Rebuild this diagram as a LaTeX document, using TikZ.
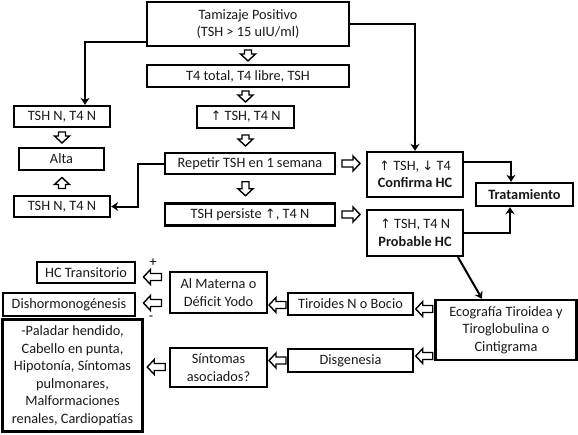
\documentclass[tikz,border=0pt]{standalone}
\usepackage{fontspec}
\setmainfont{Carlito}
\newfontfamily\arrfont{DejaVu Sans}
\usetikzlibrary{arrows.meta,calc}
\newcommand\myup{{\arrfont\fontsize{13}{13}\selectfont ↑}}
\newcommand\mydown{{\arrfont\fontsize{13}{13}\selectfont ↓}}
% hollow block arrow: #1 start point, #2 end point, #3 rotation, #4 length
\newcommand\hollowarrow[4]{%
  \begin{scope}[shift={($#1!0.5!#2$)},rotate=#3]
    \draw[blockarrow] ({-#4/2},-3.5) -- ({#4/2-7},-3.5) -- ({#4/2-7},-7.5) -- ({#4/2},0)
      -- ({#4/2-7},7.5) -- ({#4/2-7},3.5) -- ({-#4/2},3.5) -- cycle;
  \end{scope}}
\begin{document}
\begin{tikzpicture}[x=1pt,y=-1pt,
  box/.style={draw,line width=2.4pt,align=center,inner sep=1pt,text=black!90,
    font=\fontsize{14.3}{17.5}\selectfont},
  blockarrow/.style={line width=1.4pt,fill=white,line join=miter},
  link/.style={line width=2pt,-{Stealth[length=7pt,width=9pt]}},
  sign/.style={font=\fontsize{14}{14}\selectfont,inner sep=0pt}
]
\useasboundingbox (0,0) rectangle (578,434);
% boxes
\node[box,minimum width=202pt,minimum height=44pt] (tam) at (248,24) {Tamizaje Positivo\\(TSH > 15 uIU/ml)};
\node[box,minimum width=202pt,minimum height=22pt] (t4) at (248,76) {T4 total, T4 libre, TSH};
\node[box,minimum width=97pt,minimum height=22pt] (up1) at (245.5,117) {\myup{} TSH, T4 N};
\node[box,minimum width=96pt,minimum height=21pt] (n1) at (62,116.5) {TSH N, T4 N};
\node[box,minimum width=85pt,minimum height=22pt] (alta) at (61.5,159) {Alta};
\node[box,minimum width=96pt,minimum height=21pt] (n2) at (62,206.5) {TSH N, T4 N};
\node[box,minimum width=170pt,minimum height=21pt] (rep) at (250,163.5) {Repetir TSH en 1 semana};
\node[box,minimum width=170pt,minimum height=22pt] (pers) at (250,214.5) {TSH persiste \myup, T4 N};
\node[box,minimum width=96pt,minimum height=45pt] (conf) at (415,174.5) {\myup{} TSH, \mydown{} T4\\\textbf{Confirma HC}};
\node[box,minimum width=97pt,minimum height=23pt] (trat) at (524.5,194.5) {\textbf{Tratamiento}};
\node[box,minimum width=96pt,minimum height=46pt] (prob) at (415,233) {\myup{} TSH, T4 N\\\textbf{Probable HC}};
\node[box,minimum width=141pt,minimum height=60pt] (eco) at (506,330) {Ecografía Tiroidea y\\Tiroglobulina o\\Cintigrama};
\node[box,minimum width=125pt,minimum height=22pt] (tir) at (350.5,304) {Tiroides N o Bocio};
\node[box,minimum width=125pt,minimum height=23pt] (dis) at (350.5,360.5) {Disgenesia};
\node[box,minimum width=97pt,minimum height=41pt] (alm) at (218.5,292.5) {Al Materna o\\Déficit Yodo};
\node[box,minimum width=98pt,minimum height=21pt] (hct) at (86,272.5) {HC Transitorio};
\node[box,minimum width=132pt,minimum height=23pt] (dish) at (69,304.5) {Dishormonogénesis};
\node[box,minimum width=140pt,minimum height=112pt] (pal) at (72.5,375.5) {-Paladar hendido,\\Cabello en punta,\\Hipotonía, Síntomas\\pulmonares,\\Malformaciones\\renales, Cardiopatías};
\node[box,minimum width=97pt,minimum height=39pt] (sint) at (218.5,367.5) {Síntomas\\asociados?};
% block arrows
\hollowarrow{(tam.south)}{(t4.north)}{-90}{11}
\hollowarrow{(up1.north |- t4.south)}{(up1.north)}{-90}{11}
\hollowarrow{(up1.south)}{(up1.south |- rep.north)}{-90}{11}
\hollowarrow{(rep.south -| up1.south)}{(pers.north -| up1.south)}{-90}{14}
\hollowarrow{(n1.south)}{(n1.south |- alta.north)}{-90}{11}
\hollowarrow{(n2.north)}{(n2.north |- alta.south)}{90}{11}
\hollowarrow{(rep.east)}{(rep.east -| conf.west)}{0}{18}
\hollowarrow{(pers.east)}{(pers.east -| prob.west)}{0}{18}
\hollowarrow{(eco.west |- 0,309)}{(tir.east |- 0,309)}{180}{17}
\hollowarrow{(eco.west |- 0,356)}{(dis.east |- 0,356)}{180}{17}
\hollowarrow{(tir.west |- 0,305)}{(alm.east |- 0,305)}{180}{17}
\hollowarrow{(dis.west)}{(dis.west -| sint.east)}{180}{17}
\hollowarrow{(alm.west |- 0,277)}{(hct.east |- 0,277)}{180}{18}
\hollowarrow{(alm.west |- 0,303)}{(dish.east |- 0,303)}{180}{18}
\hollowarrow{(sint.west |- 0,367)}{(pal.east |- 0,367)}{180}{18}
% line arrows
\coordinate (c1) at (85,42);
\draw[link] (tam.west |- c1) -- (c1) -- (c1 |- n1.north);
\coordinate (c2) at (415,24);
\draw[link] (tam.east |- c2) -- (c2) -- (c2 |- conf.north);
\coordinate (c3) at (138,163.5);
\draw[link] (rep.west) -- (c3) -- (c3 |- n2.east) -- (n2.east);
\coordinate (c4) at (511,162);
\draw[link] (conf.east |- c4) -- (c4) -- (c4 |- trat.north);
\coordinate (c5) at (510,233);
\draw[link] (prob.east) -- (c5) -- (c5 |- trat.south);
\draw[link] (prob.south -| 458,0) -- (eco.north -| 482,0);
% signs
\node[sign] (plus) at (153,263) {+};
\node[sign] (minus) at (151,318) {-};
\end{tikzpicture}
\end{document}
